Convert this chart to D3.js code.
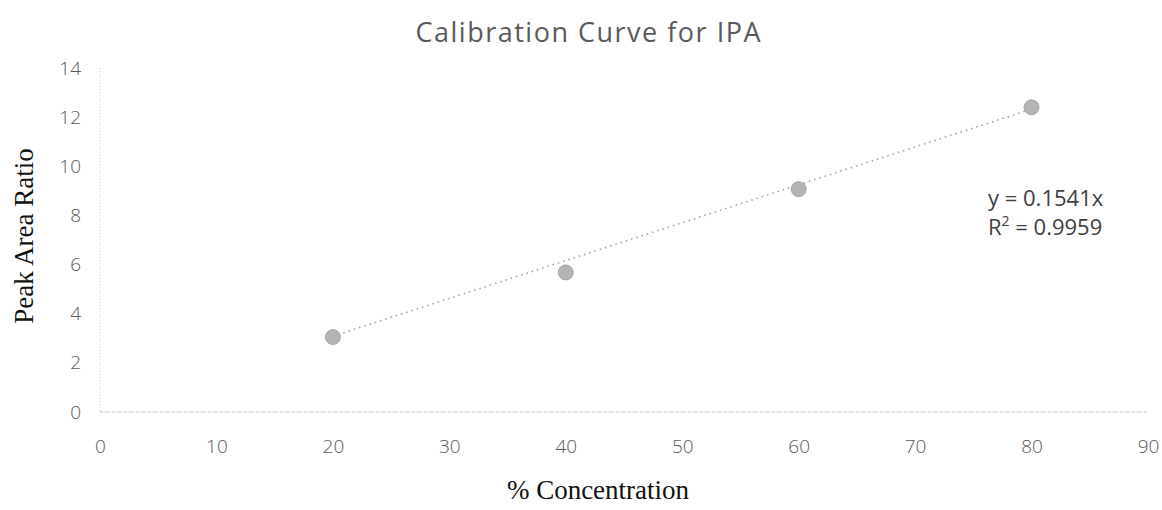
<!DOCTYPE html>
<html><head><meta charset="utf-8">
<script src="https://cdn.jsdelivr.net/npm/d3@7/dist/d3.min.js"></script>
<style>body{margin:0;background:#fff}svg{display:block}</style>
</head><body><svg id="c" width="1162" height="510"></svg>
<script>
const concentration = [20, 40, 60, 80];
const peakAreaRatio = [3.05, 5.68, 9.07, 12.4];
const slope = 0.1541;
const rSquared = 0.9959;
const xTicks = [0,10,20,30,40,50,60,70,80,90];
const yTicks = [0,2,4,6,8,10,12,14];
const title = "Calibration Curve for IPA";
const xTitle = "% Concentration";
const yTitle = "Peak Area Ratio";

const svg = d3.select("#c");
const x = d3.scaleLinear().domain([0,90]).range([100,1148]);
const y = d3.scaleLinear().domain([0,14]).range([412,68]);

svg.append("text").attr("x",588).attr("y",42).attr("text-anchor","middle")
  .attr("font-family","'Open Sans', sans-serif").attr("font-size",27).attr("fill","#595959")
  .attr("textLength",345).attr("lengthAdjust","spacing").text(title);

// axes lines
svg.append("line").attr("x1",x(0)).attr("x2",x(0)).attr("y1",y(14)).attr("y2",y(0))
  .attr("stroke","#c8c8c8").attr("stroke-dasharray","1,2");
svg.append("line").attr("x1",x(0)).attr("x2",x(90)).attr("y1",y(0)).attr("y2",y(0))
  .attr("stroke","#bdbdbd").attr("stroke-width",1.2).attr("stroke-dasharray","3,1,1,1");

// tick labels via axes
const xAxis = svg.append("g").attr("transform",`translate(0,${y(0)})`)
  .call(d3.axisBottom(x).tickValues(xTicks).tickSize(0).tickPadding(28));
xAxis.select(".domain").remove();
xAxis.selectAll("text").attr("font-family","'Open Sans', sans-serif").attr("font-size",19)
  .attr("font-weight",300).attr("fill","#595959");

const yAxis = svg.append("g").attr("transform",`translate(${x(0)},0)`)
  .call(d3.axisLeft(y).tickValues(yTicks).tickSize(0).tickPadding(19));
yAxis.select(".domain").remove();
yAxis.selectAll("text").attr("font-family","'Open Sans', sans-serif").attr("font-size",19)
  .attr("font-weight",300).attr("fill","#595959");

// trendline
const x0 = d3.min(concentration), x1 = d3.max(concentration);
svg.append("line").attr("x1",x(x0)).attr("y1",y(slope*x0)).attr("x2",x(x1)).attr("y2",y(slope*x1))
  .attr("stroke","#a0a0a0").attr("stroke-width",1.6).attr("stroke-dasharray","1.5,4");

// points
svg.selectAll("circle.pt").data(concentration).enter().append("circle")
  .attr("cx",d=>x(d)).attr("cy",(d,i)=>y(peakAreaRatio[i])).attr("r",7.5)
  .attr("fill","#b4b4b4").attr("stroke","#9a9a9a").attr("stroke-width",0.8);

// equation
const eq = svg.append("text").attr("font-family","'Open Sans', sans-serif").attr("font-size",22)
  .attr("fill","#404040");
eq.append("tspan").attr("x",988).attr("y",206).text(`y = ${slope}x`);
const l2 = eq.append("tspan").attr("x",988).attr("y",235).text("R");
l2.append("tspan").attr("font-size",14).attr("dy",-9).text("2");
eq.append("tspan").attr("dy",9).text(` = ${rSquared}`);

// axis titles
svg.append("text").attr("x",598).attr("y",499).attr("text-anchor","middle")
  .attr("font-family","'Liberation Serif', serif").attr("font-size",27).attr("fill","#111").text(xTitle);
svg.append("text").attr("transform","translate(33,236) rotate(-90)").attr("text-anchor","middle")
  .attr("font-family","'Liberation Serif', serif").attr("font-size",27).attr("fill","#111").text(yTitle);
</script></body></html>
